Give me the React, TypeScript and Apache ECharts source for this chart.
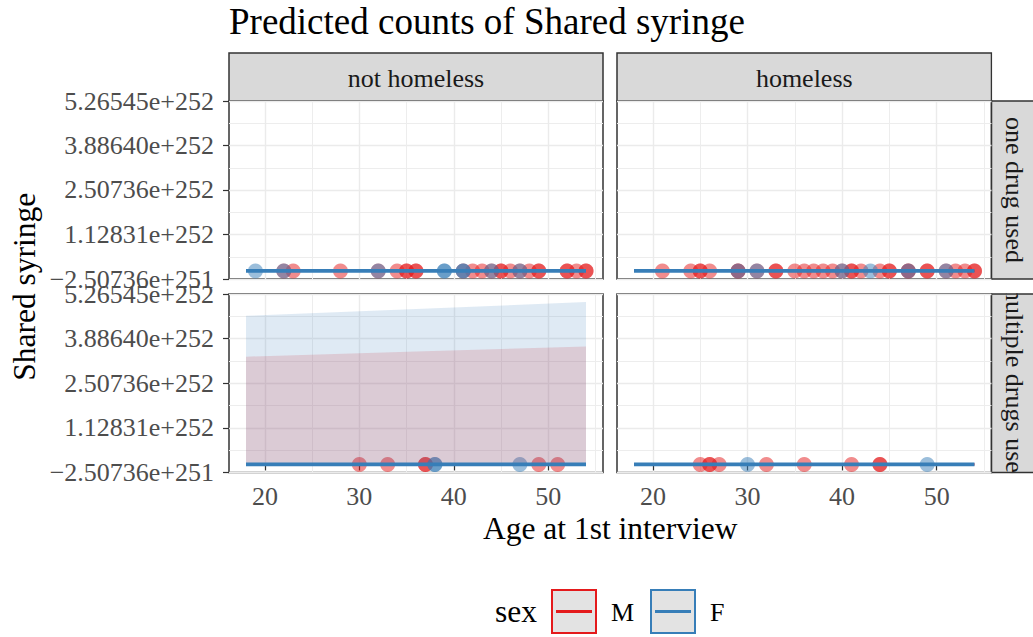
import React, { useEffect, useRef } from "react";
import * as echarts from "echarts";

// ---------- texts ----------
const TITLE = "Predicted counts of Shared syringe";
const X_TITLE = "Age at 1st interview";
const Y_TITLE = "Shared syringe";
const COL_STRIPS = ["not homeless", "homeless"];
const ROW_STRIPS = ["one drug used", "multiple drugs used"];
const LEGEND_TITLE = "sex";
const SEXES = ["M", "F"];
const SEX_COLORS = ["#E41A1C", "#377EB8"];

// ---------- scales (y values in units of 1e251) ----------
const Y_TICK_VALUES = [-2.50736, 11.2831, 25.0736, 38.864, 52.6545];
const Y_TICK_LABELS = ["−2.50736e+251", "1.12831e+252", "2.50736e+252", "3.88640e+252", "5.26545e+252"];
const X_TICKS = [20, 30, 40, 50];
const X_MINOR = [25, 35, 45, 55];

// ---------- data ----------
// predicted-count grid (ages)
const PRED_AGES = [18, 54];
// predicted counts (×1e251) per panel [TL, TR, BL, BR]
const PRED_M = [[0, 0], [0, 0], [0, 0], [0, 0]];
const PRED_F = [[0, 0], [0, 0], [0, 0], [0, 0]];
// confidence ribbons (lower bound 0), only visible in "multiple drugs used / not homeless"
const RIB_AGES = [18, 36, 54];
const RIB_M_UP = [33.3, 34.9, 36.4];
const RIB_F_UP = [45.9, 48.0, 50.15];

// observed ages of respondents (observed counts ≈ 0 on this scale)
const OBS_COUNT = 0;
const TL_M_AGES = [22, 23, 28, 32, 34, 35, 35, 36, 36, 41, 42, 43, 44, 45, 45, 46, 47, 48, 49, 49, 52, 52, 53, 54, 54];
const TL_F_AGES = [19, 22, 32, 39, 39, 41, 41, 44, 47];
const TR_M_AGES = [21, 24, 25, 25, 26, 29, 29, 31, 33, 33, 35, 36, 37, 38, 39, 40, 41, 41, 42, 44, 45, 45, 47, 47, 49, 49, 51, 52, 53, 54, 54];
const TR_F_AGES = [29, 31, 40, 43, 47, 51];
const BL_M_AGES = [30, 33, 37, 37, 49, 51];
const BL_F_AGES = [38, 38, 47];
const BR_M_AGES = [25, 26, 26, 27, 32, 36, 41, 44, 44];
const BR_F_AGES = [30, 49];

const FONT = "'Liberation Serif', 'Times New Roman', serif";
const SMALL = 26;
const MID = 31.5;
const BIG = 37;

const X_SPAN = PRED_AGES[PRED_AGES.length - 1] - PRED_AGES[0];
const X_MIN = PRED_AGES[0] - 0.05 * X_SPAN;
const X_MAX = PRED_AGES[PRED_AGES.length - 1] + 0.05 * X_SPAN;
const Y_MIN = Y_TICK_VALUES[0];
const Y_MAX = Y_TICK_VALUES[Y_TICK_VALUES.length - 1];
const Y_MINOR = Y_TICK_VALUES.slice(1).map((v, i) => (v + Y_TICK_VALUES[i]) / 2);

const GRIDS = [
  { left: 229, top: 101, width: 374, height: 178 },
  { left: 617, top: 101, width: 374.5, height: 178 },
  { left: 229, top: 294, width: 374, height: 178.5 },
  { left: 617, top: 294, width: 374.5, height: 178.5 },
];

function buildOption() {
  const panelPoints = [
    [TL_M_AGES, TL_F_AGES],
    [TR_M_AGES, TR_F_AGES],
    [BL_M_AGES, BL_F_AGES],
    [BR_M_AGES, BR_F_AGES],
  ];
  const preds = [PRED_M, PRED_F];
  const lineWidths = [2.4, 3.6];

  const grid = GRIDS.map((g) => ({
    ...g,
    show: true,
    borderColor: "#333333",
    borderWidth: 1.5,
    backgroundColor: "transparent",
    containLabel: false,
  }));

  const xAxis: any[] = [];
  const yAxis: any[] = [];
  GRIDS.forEach((_, i) => {
    const bottom = i >= 2;
    xAxis.push({
      type: "value",
      gridIndex: i,
      min: X_MIN,
      max: X_MAX,
      position: "bottom",
      axisLine: { show: false },
      axisTick: { show: bottom, customValues: X_TICKS, length: 6, lineStyle: { color: "#333333", width: 1.2 } },
      axisLabel: { show: bottom, customValues: X_TICKS, margin: 11, color: "#4D4D4D", fontSize: SMALL, fontFamily: FONT },
      splitLine: { show: true, lineStyle: { color: "#EBEBEB", width: 1.4 } },
    });
  });
  GRIDS.forEach((_, i) => {
    xAxis.push({
      type: "value",
      gridIndex: i,
      min: X_MIN,
      max: X_MAX,
      position: "top",
      axisLine: { show: false },
      axisTick: { show: false, customValues: X_MINOR },
      axisLabel: { show: false, customValues: X_MINOR },
      splitLine: { show: true, lineStyle: { color: "#EDEDED", width: 1 } },
    });
  });
  const yFmt = (v: number) => {
    const k = Y_TICK_VALUES.findIndex((t) => Math.abs(t - v) < 1e-6);
    return k >= 0 ? Y_TICK_LABELS[k] : "";
  };
  GRIDS.forEach((_, i) => {
    const left = i % 2 === 0;
    yAxis.push({
      type: "value",
      gridIndex: i,
      min: Y_MIN,
      max: Y_MAX,
      position: "left",
      axisLine: { show: false },
      axisTick: { show: left, customValues: Y_TICK_VALUES, length: 6, lineStyle: { color: "#333333", width: 1.2 } },
      axisLabel: { show: left, customValues: Y_TICK_VALUES, formatter: yFmt, margin: 15, color: "#4D4D4D", fontSize: SMALL, fontFamily: FONT },
      splitLine: { show: true, lineStyle: { color: "#EBEBEB", width: 1.4 } },
    });
  });
  GRIDS.forEach((_, i) => {
    yAxis.push({
      type: "value",
      gridIndex: i,
      min: Y_MIN,
      max: Y_MAX,
      position: "right",
      axisLine: { show: false },
      axisTick: { show: false, customValues: Y_MINOR },
      axisLabel: { show: false, customValues: Y_MINOR },
      splitLine: { show: true, lineStyle: { color: "#EDEDED", width: 1 } },
    });
  });

  const series: any[] = [];
  // ribbons (panel BL), filled from the upper bound down to 0
  const ribbons = [
    { up: RIB_M_UP, c: SEX_COLORS[0] },
    { up: RIB_F_UP, c: SEX_COLORS[1] },
  ];
  ribbons.forEach((r) => {
    series.push({
      type: "line",
      xAxisIndex: 2,
      yAxisIndex: 2,
      data: RIB_AGES.map((a, k) => [a, r.up[k]]),
      symbol: "none",
      lineStyle: { width: 0, opacity: 0 },
      areaStyle: { color: r.c, opacity: 0.16, origin: "auto" },
      silent: true,
    });
  });
  // points
  panelPoints.forEach((pp, i) => {
    pp.forEach((ages, s) => {
      series.push({
        type: "scatter",
        xAxisIndex: i,
        yAxisIndex: i,
        symbolSize: 15,
        data: ages.map((a) => [a, OBS_COUNT]),
        itemStyle: { color: SEX_COLORS[s], opacity: 0.5 },
        silent: true,
      });
    });
  });
  // predicted lines
  GRIDS.forEach((_, i) => {
    preds.forEach((p, s) => {
      series.push({
        type: "line",
        xAxisIndex: i,
        yAxisIndex: i,
        data: PRED_AGES.map((a, k) => [a, p[i][k]]),
        symbol: "none",
        lineStyle: { color: SEX_COLORS[s], width: lineWidths[s] },
        silent: true,
      });
    });
  });

  const graphic: any[] = [];
  // title
  graphic.push({
    type: "text",
    x: 229,
    y: 21,
    style: { text: TITLE, font: `${BIG}px ${FONT}`, fill: "#000000", textAlign: "left", textVerticalAlign: "middle" },
  });
  // top strips
  COL_STRIPS.forEach((t, c) => {
    const g = GRIDS[c];
    graphic.push({ type: "rect", shape: { x: g.left, y: 53, width: g.width, height: 48 }, style: { fill: "#D9D9D9", stroke: "#333333", lineWidth: 1.5 } });
    graphic.push({
      type: "text",
      x: g.left + g.width / 2,
      y: 78,
      style: { text: t, font: `${SMALL}px ${FONT}`, fill: "#1A1A1A", textAlign: "center", textVerticalAlign: "middle" },
    });
  });
  // right strips
  const sx = GRIDS[1].left + GRIDS[1].width;
  ROW_STRIPS.forEach((t, r) => {
    const g = GRIDS[r * 2 + 1];
    graphic.push({ type: "rect", shape: { x: sx, y: g.top, width: 48, height: g.height }, style: { fill: "#D9D9D9", stroke: "none" } });
    graphic.push({
      type: "text",
      x: sx + 23,
      y: g.top + g.height / 2,
      rotation: -Math.PI / 2,
      style: { text: t, font: `${SMALL}px ${FONT}`, fill: "#1A1A1A", textAlign: "center", textVerticalAlign: "middle" },
    });
  });
  // clip overflow of strip texts
  graphic.push({ type: "rect", shape: { x: sx + 0.8, y: GRIDS[1].top + GRIDS[1].height + 0.8, width: 60, height: GRIDS[3].top - GRIDS[1].top - GRIDS[1].height - 1.6 }, style: { fill: "#FFFFFF" } });
  graphic.push({ type: "rect", shape: { x: sx + 0.8, y: GRIDS[3].top + GRIDS[3].height + 0.8, width: 60, height: 40 }, style: { fill: "#FFFFFF" } });
  graphic.push({ type: "rect", shape: { x: sx + 0.8, y: 40, width: 60, height: GRIDS[1].top - 40 - 0.8 }, style: { fill: "#FFFFFF" } });
  ROW_STRIPS.forEach((_, r) => {
    const g = GRIDS[r * 2 + 1];
    graphic.push({ type: "rect", shape: { x: sx, y: g.top, width: 48, height: g.height }, style: { fill: "none", stroke: "#333333", lineWidth: 1.5 } });
  });
  // axis titles
  graphic.push({
    type: "text",
    x: (GRIDS[2].left + GRIDS[3].left + GRIDS[3].width) / 2,
    y: 528,
    style: { text: X_TITLE, font: `${MID}px ${FONT}`, fill: "#000000", textAlign: "center", textVerticalAlign: "middle" },
  });
  graphic.push({
    type: "text",
    x: 24,
    y: (GRIDS[0].top + GRIDS[2].top + GRIDS[2].height) / 2,
    rotation: Math.PI / 2,
    style: { text: Y_TITLE, font: `${MID}px ${FONT}`, fill: "#000000", textAlign: "center", textVerticalAlign: "middle" },
  });
  // legend
  graphic.push({
    type: "text",
    x: 495,
    y: 611,
    style: { text: LEGEND_TITLE, font: `${MID}px ${FONT}`, fill: "#000000", textAlign: "left", textVerticalAlign: "middle" },
  });
  const keyX = [552, 651];
  SEXES.forEach((s, k) => {
    const x = keyX[k];
    graphic.push({ type: "rect", shape: { x, y: 590, width: 44, height: 43 }, style: { fill: "#E3E3E3", stroke: SEX_COLORS[k], lineWidth: 2 } });
    graphic.push({ type: "line", shape: { x1: x + 4, y1: 611.5, x2: x + 40, y2: 611.5 }, style: { stroke: SEX_COLORS[k], lineWidth: 3 } });
    graphic.push({
      type: "text",
      x: x + 59,
      y: 612,
      style: { text: s, font: `${SMALL}px ${FONT}`, fill: "#000000", textAlign: "left", textVerticalAlign: "middle" },
    });
  });

  return {
    animation: false,
    backgroundColor: "#FFFFFF",
    grid,
    xAxis,
    yAxis,
    series,
    graphic,
  };
}

export default function App() {
  const ref = useRef<HTMLDivElement>(null);
  useEffect(() => {
    const chart = echarts.init(ref.current as HTMLDivElement, null, { renderer: "svg" });
    chart.setOption(buildOption() as any);
    return () => chart.dispose();
  }, []);
  return (
    <div
      ref={ref}
      style={{ position: "fixed", left: 0, top: 0, width: 1033, height: 637, background: "#FFFFFF" }}
    />
  );
}
